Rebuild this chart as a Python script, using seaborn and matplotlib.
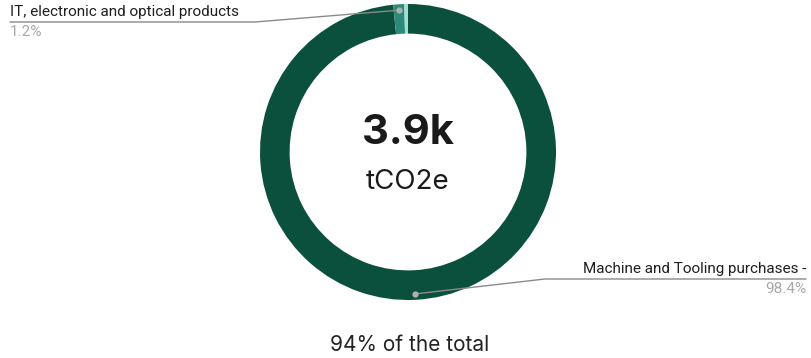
import matplotlib.pyplot as plt
import seaborn as sns
import numpy as np

categories = ['Machine and Tooling purchases -', 'IT, electronic and optical products', 'Other']
shares = [98.4, 1.2, 0.4]
share_labels = ['98.4%', '1.2%', '0.4%']
colors = ['#0b4f3d', '#2b8a78', '#9fe0d0']
total_label = '3.9k'
unit_label = 'tCO2e'
footer = '94% of the total'

sns.set_theme(style='white')
plt.rcParams['font.family'] = ['Roboto', 'DejaVu Sans']

W, H = 811, 358
fig = plt.figure(figsize=(W / 100, H / 100), dpi=100)

# donut axes placed in pixels (centre ~ (408,152), radius ~148)
cx, cy, R = 408, 152, 148
ax = fig.add_axes([(cx - R) / W, (H - cy - R) / H, 2 * R / W, 2 * R / H])
ax.pie(shares, colors=colors, startangle=90, counterclock=False,
       wedgeprops=dict(width=0.2, edgecolor='none'))
ax.set_xlim(-1, 1)
ax.set_ylim(-1, 1)
ax.set_aspect('equal')
ax.axis('off')

ax.text(0, 0.13, total_label, ha='center', va='center', fontsize=30,
        fontweight='bold', family=['Inter', 'DejaVu Sans'], color='#1a1a1a')
ax.text(0, -0.2, unit_label, ha='center', va='center', fontsize=20,
        family=['Inter', 'DejaVu Sans'], color='#1a1a1a')

# leader lines for the two labelled slices
cum = np.cumsum([0] + shares[:-1])
tot = sum(shares)
line_col = '#8a8a8a'
label_spec = {
    0: dict(elbow=(545, H - 279), end=806, ha='right'),
    1: dict(elbow=(255, H - 22), end=10, ha='left'),
}
fig.canvas.draw()
for i, spec in label_spec.items():
    theta = np.deg2rad(90 - 360 * (cum[i] + shares[i] / 2) / tot)
    px, py = ax.transData.transform((0.96 * np.cos(theta), 0.96 * np.sin(theta)))
    ex, ey = spec['elbow']
    xs = [px / W, ex / W, spec['end'] / W]
    ys = [py / H, ey / H, ey / H]
    fig.add_artist(plt.Line2D(xs, ys, color=line_col, lw=1))
    fig.add_artist(plt.Line2D([px / W], [py / H], marker='o', ms=3.5,
                              color='#b0b0b0', lw=0))
    fig.text(spec['end'] / W, (ey + 3) / H, categories[i], ha=spec['ha'],
             va='bottom', fontsize=11, color='#1f1f1f')
    fig.text(spec['end'] / W, (ey - 3) / H, share_labels[i], ha=spec['ha'],
             va='top', fontsize=11, color='#a8a8a8')

fig.text(410 / W, 13 / H, footer, ha='center', va='center', fontsize=15,
         family=['Inter', 'DejaVu Sans'], color='#222222')

fig.savefig('out.png', dpi=100)
